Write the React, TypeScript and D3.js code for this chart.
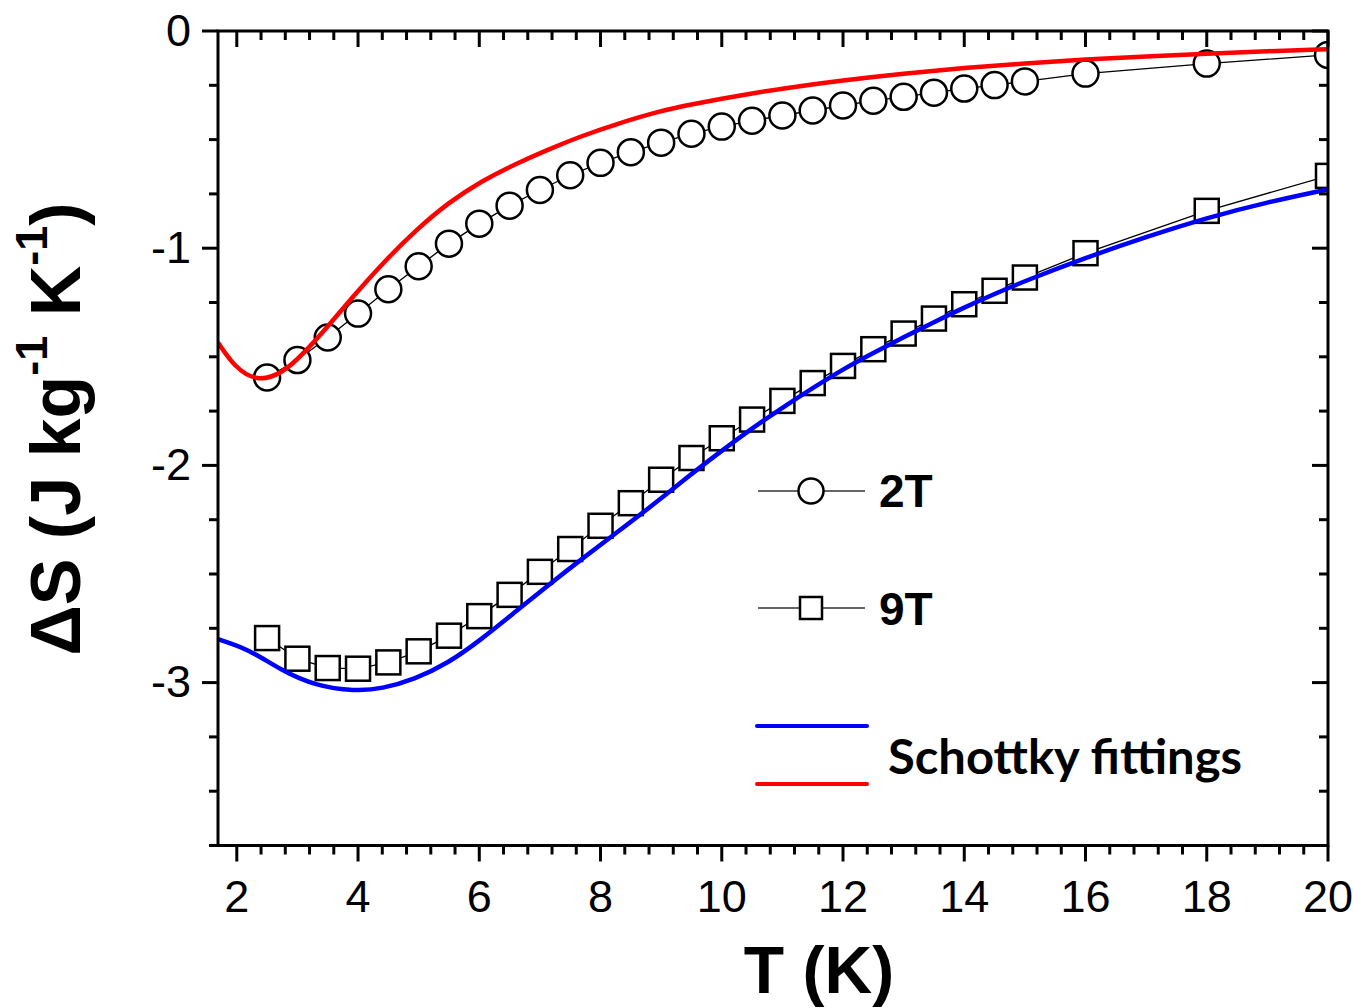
import React from "react";
import * as d3 from "d3";

// ---- data ----
const temps2T = [2.5, 3, 3.5, 4, 4.5, 5, 5.5, 6, 6.5, 7, 7.5, 8, 8.5, 9, 9.5, 10, 10.5, 11, 11.5, 12, 12.5, 13, 13.5, 14, 14.5, 15, 16, 18, 20];
const ds2T = [-1.595, -1.515, -1.411, -1.301, -1.189, -1.083, -0.979, -0.887, -0.804, -0.732, -0.664, -0.607, -0.558, -0.514, -0.473, -0.44, -0.413, -0.389, -0.366, -0.343, -0.321, -0.303, -0.284, -0.265, -0.249, -0.232, -0.196, -0.15, -0.11];

const temps9T = [2.5, 3, 3.5, 4, 4.5, 5, 5.5, 6, 6.5, 7, 7.5, 8, 8.5, 9, 9.5, 10, 10.5, 11, 11.5, 12, 12.5, 13, 13.5, 14, 14.5, 15, 16, 18, 20];
const ds9T = [-2.795, -2.89, -2.933, -2.936, -2.907, -2.856, -2.784, -2.694, -2.596, -2.49, -2.385, -2.278, -2.174, -2.066, -1.966, -1.875, -1.789, -1.703, -1.621, -1.542, -1.465, -1.393, -1.324, -1.258, -1.196, -1.135, -1.023, -0.828, -0.667];

const fitT2T = [1.69, 1.97, 2.33, 2.74, 3.12, 3.51, 3.95, 4.39, 4.94, 5.49, 6.04, 6.59, 7.14, 7.69, 8.24, 9, 9.5, 10, 10.5, 11, 12, 13, 14, 15, 16, 17, 18, 19, 20];
const fitS2T = [-1.434, -1.55, -1.614, -1.58, -1.48, -1.357, -1.212, -1.074, -0.92, -0.79, -0.69, -0.613, -0.545, -0.483, -0.43, -0.367, -0.338, -0.312, -0.287, -0.265, -0.227, -0.196, -0.17, -0.149, -0.131, -0.117, -0.104, -0.093, -0.084];

const fitT9T = [1.69, 2.19, 2.74, 3.29, 3.95, 4.39, 4.94, 5.49, 6.04, 6.59, 7.14, 7.69, 8.24, 8.79, 9.34, 9.89, 10.5, 11, 11.5, 12, 12.5, 13, 13.5, 14, 14.5, 15, 16, 17, 18, 19, 20];
const fitS9T = [-2.8, -2.845, -2.945, -3.014, -3.04, -3.029, -2.984, -2.91, -2.8, -2.675, -2.551, -2.431, -2.315, -2.198, -2.075, -1.955, -1.829, -1.734, -1.644, -1.557, -1.482, -1.41, -1.34, -1.273, -1.21, -1.151, -1.044, -0.948, -0.86, -0.788, -0.729];

const xMajorTicks = [2, 4, 6, 8, 10, 12, 14, 16, 18, 20];
const yMajorTicks = [0, -1, -2, -3];
const legendSeries = ["2T", "9T"];
const fitLabel = "Schottky fittings";
const xTitle = "T (K)";

const W = 1353;
const H = 1008;
const L = 218, R = 1328, T = 31, B = 845.5;

const ARIAL = "'Liberation Sans', Arial, sans-serif";

export default function App() {
  const x = d3.scaleLinear().domain([1.69, 20]).range([L, R]);
  const y = d3.scaleLinear().domain([0, -3.75]).range([T, B]);

  const xMinor = d3.range(2, 20.001, 0.4)
    .map((v) => Math.round(v * 10) / 10)
    .filter((v) => !xMajorTicks.includes(v));
  const yMinor = d3.range(0, -3.7501, -0.25)
    .map((v) => Math.round(v * 100) / 100)
    .filter((v) => !yMajorTicks.includes(v));

  const pts2 = temps2T.map((t, i) => [t, ds2T[i]] as [number, number]);
  const pts9 = temps9T.map((t, i) => [t, ds9T[i]] as [number, number]);
  const fit2 = fitT2T.map((t, i) => [t, fitS2T[i]] as [number, number]);
  const fit9 = fitT9T.map((t, i) => [t, fitS9T[i]] as [number, number]);

  const lin = d3.line<[number, number]>().x((d) => x(d[0])).y((d) => y(d[1]));
  const smooth = d3.line<[number, number]>().x((d) => x(d[0])).y((d) => y(d[1])).curve(d3.curveBasis);

  const sq = 24;

  return (
    <svg width={W} height={H} style={{ position: "absolute", left: 0, top: 0, background: "#fff" }}>
      <defs>
        <clipPath id="plotclip">
          <rect x={L} y={T} width={R - L} height={B - T} />
        </clipPath>
      </defs>

      {/* data */}
      <g clipPath="url(#plotclip)">
        <path d={lin(pts2) || ""} fill="none" stroke="#000" strokeWidth={1.3} />
        <path d={lin(pts9) || ""} fill="none" stroke="#000" strokeWidth={1.3} />
        {pts2.map((d, i) => (
          <circle key={"c" + i} cx={x(d[0])} cy={y(d[1])} r={13} fill="#fff" stroke="#000" strokeWidth={2.5} />
        ))}
        {pts9.map((d, i) => (
          <rect key={"s" + i} x={x(d[0]) - sq / 2} y={y(d[1]) - sq / 2} width={sq} height={sq} fill="#fff" stroke="#000" strokeWidth={2.5} />
        ))}
        <path d={smooth(fit9) || ""} fill="none" stroke="#0000ff" strokeWidth={4.5} />
        <path d={smooth(fit2) || ""} fill="none" stroke="#ff0000" strokeWidth={4.5} />
      </g>

      {/* frame */}
      <rect x={L} y={T} width={R - L} height={B - T} fill="none" stroke="#000" strokeWidth={3} />

      {/* x ticks */}
      {xMajorTicks.map((v) => (
        <g key={"xM" + v}>
          <line x1={x(v)} x2={x(v)} y1={B} y2={B + 16} stroke="#000" strokeWidth={3} />
          <line x1={x(v)} x2={x(v)} y1={T} y2={T + 16} stroke="#000" strokeWidth={3} />
          <text x={x(v)} y={912} textAnchor="middle" fontFamily={ARIAL} fontSize={45}>{v}</text>
        </g>
      ))}
      {xMinor.map((v) => (
        <g key={"xm" + v}>
          <line x1={x(v)} x2={x(v)} y1={B} y2={B + 9} stroke="#000" strokeWidth={3} />
          <line x1={x(v)} x2={x(v)} y1={T} y2={T + 9} stroke="#000" strokeWidth={3} />
        </g>
      ))}

      {/* y ticks */}
      {yMajorTicks.map((v) => (
        <g key={"yM" + v}>
          <line x1={L - 16} x2={L} y1={y(v)} y2={y(v)} stroke="#000" strokeWidth={3} />
          <line x1={R - 16} x2={R} y1={y(v)} y2={y(v)} stroke="#000" strokeWidth={3} />
          <text x={191} y={y(v)} dy="0.33em" textAnchor="end" fontFamily={ARIAL} fontSize={45}>{v === 0 ? "0" : "-" + Math.abs(v)}</text>
        </g>
      ))}
      {yMinor.map((v) => (
        <g key={"ym" + v}>
          <line x1={L - 9} x2={L} y1={y(v)} y2={y(v)} stroke="#000" strokeWidth={3} />
          <line x1={R - 9} x2={R} y1={y(v)} y2={y(v)} stroke="#000" strokeWidth={3} />
        </g>
      ))}

      {/* axis titles */}
      <text x={819} y={993} textAnchor="middle" fontFamily={ARIAL} fontWeight="bold" fontSize={66}>{xTitle}</text>
      <text transform="translate(80,429) rotate(-90)" textAnchor="middle" fontFamily={ARIAL} fontWeight="bold" fontSize={70}>
        ΔS (J kg<tspan dy={-33} fontSize={45}>-1</tspan><tspan dy={33}> K</tspan><tspan dy={-33} fontSize={45}>-1</tspan><tspan dy={33}>)</tspan>
      </text>

      {/* legend */}
      <line x1={758} x2={865} y1={491} y2={491} stroke="#333" strokeWidth={1.5} />
      <circle cx={811} cy={491} r={12.5} fill="#fff" stroke="#000" strokeWidth={2.5} />
      <text x={879} y={507} fontFamily={ARIAL} fontWeight="bold" fontSize={46}>{legendSeries[0]}</text>

      <line x1={758} x2={865} y1={608} y2={608} stroke="#333" strokeWidth={1.5} />
      <rect x={811 - 11} y={608 - 11} width={22} height={22} fill="#fff" stroke="#000" strokeWidth={2.5} />
      <text x={879} y={625} fontFamily={ARIAL} fontWeight="bold" fontSize={46}>{legendSeries[1]}</text>

      <line x1={757} x2={867} y1={726} y2={726} stroke="#0000ff" strokeWidth={4} strokeLinecap="round" />
      <line x1={757} x2={867} y1={784} y2={784} stroke="#ff0000" strokeWidth={4} strokeLinecap="round" />
      <text x={888} y={774} fontFamily="Lato, 'Open Sans', sans-serif" fontWeight="bold" fontSize={47} textLength={354} lengthAdjust="spacingAndGlyphs">{fitLabel}</text>
    </svg>
  );
}
